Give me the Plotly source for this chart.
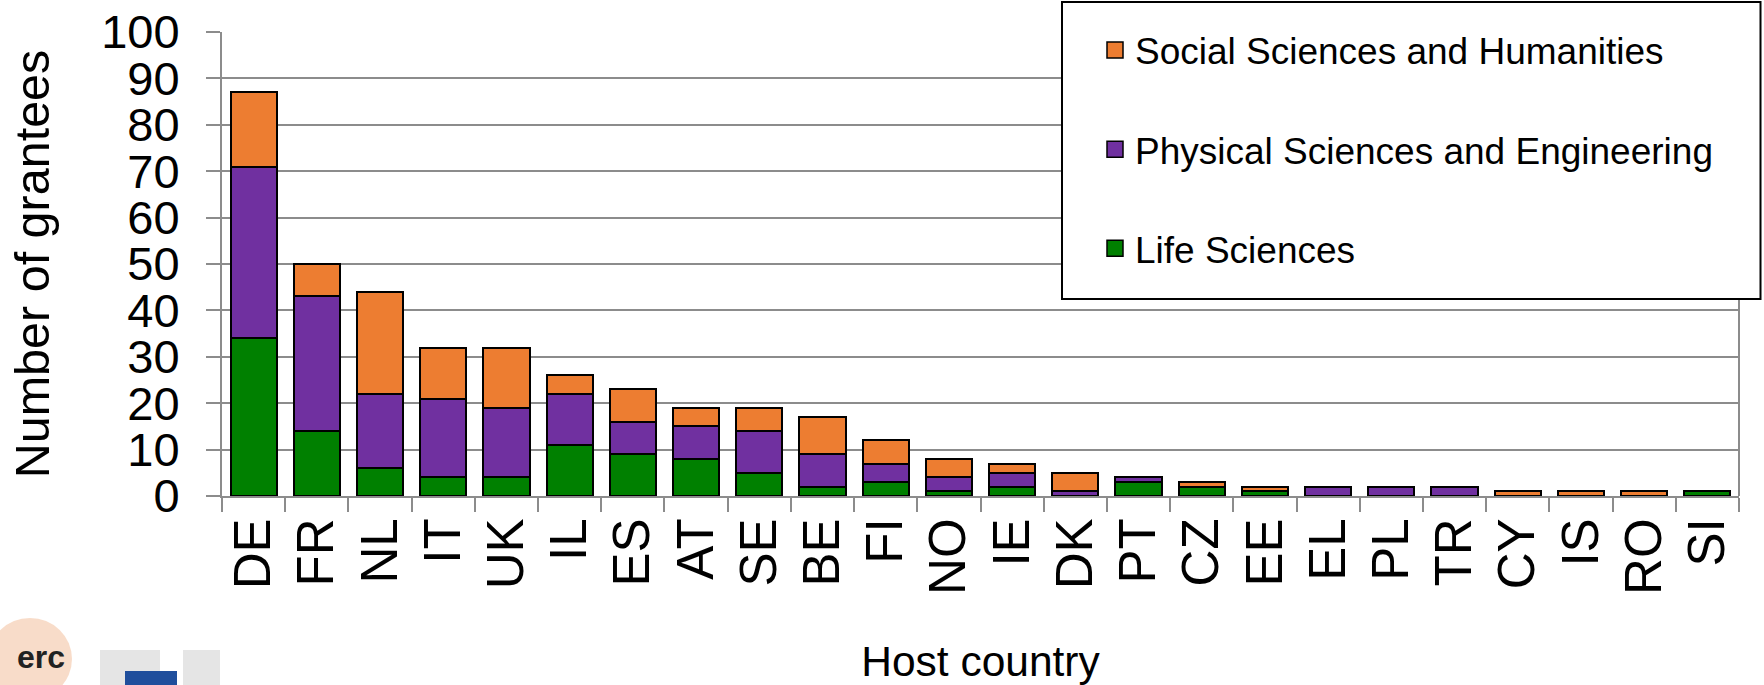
import plotly.graph_objects as go

countries = ["DE", "FR", "NL", "IT", "UK", "IL", "ES", "AT", "SE", "BE", "FI", "NO",
             "IE", "DK", "PT", "CZ", "EE", "EL", "PL", "TR", "CY", "IS", "RO", "SI"]
life_sciences = [34, 14, 6, 4, 4, 11, 9, 8, 5, 2, 3, 1, 2, 0, 3, 2, 1, 0, 0, 0, 0, 0, 0, 1]
physical_sciences = [37, 29, 16, 17, 15, 11, 7, 7, 9, 7, 4, 3, 3, 1, 1, 0, 0, 2, 2, 2, 0, 0, 0, 0]
social_sciences = [16, 7, 22, 11, 13, 4, 7, 4, 5, 8, 5, 4, 2, 4, 0, 1, 1, 0, 0, 0, 1, 1, 1, 0]

# stacking order (bottom -> top)
series = [
    ("Life Sciences", life_sciences, "#008000"),
    ("Physical Sciences and Engineering", physical_sciences, "#7030A0"),
    ("Social Sciences and Humanities", social_sciences, "#ED7D31"),
]

FONT = "Liberation Sans, Arial, sans-serif"
AXIS_GREY = "#8c8c8c"
W, H = 1764, 685
ML, MR, MT, MB = 222, 25, 32, 189
PW = W - ML - MR
PH = H - MT - MB


def px_x(x):
    """screen x (reference pixels) -> paper coordinate"""
    return (x - ML) / PW


def px_y(y):
    """screen y (reference pixels) -> paper coordinate"""
    return (H - MB - y) / PH


fig = go.Figure()
for name, vals, color in series:
    fig.add_trace(go.Bar(
        x=countries,
        y=[v if v else None for v in vals],
        name=name,
        showlegend=False,
        marker=dict(color=color, line=dict(color="black", width=2)),
    ))

# legend entries (top to bottom) with larger square swatches
for rank, (name, vals, color) in enumerate(reversed(series)):
    fig.add_trace(go.Scatter(
        x=[None], y=[None], mode="markers", name=name,
        legendgroup=name, legendrank=rank + 1,
        marker=dict(symbol="square", size=19, color=color,
                    line=dict(color="black", width=1.5)),
    ))

# right border of plot area, visible only below the legend frame
fig.add_shape(type="line", xref="paper", yref="paper", x0=1, x1=1, y0=0, y1=px_y(299),
              line=dict(color=AXIS_GREY, width=2), layer="above")

# legend frame
fig.add_shape(type="rect", xref="paper", yref="paper",
              x0=px_x(1062), x1=px_x(1760.5), y0=px_y(299), y1=px_y(2),
              line=dict(color="black", width=2), fillcolor="white", layer="above")

# logos (approximate)
fig.add_shape(type="circle", xref="paper", yref="paper",
              x0=px_x(-12), x1=px_x(72), y0=px_y(700), y1=px_y(618),
              line=dict(width=0), fillcolor="rgba(230,130,60,0.28)", layer="above")
fig.add_annotation(text="<b>erc</b>", xref="paper", yref="paper",
                   x=px_x(41), y=px_y(657), xanchor="center", yanchor="middle",
                   showarrow=False, font=dict(family=FONT, size=32, color="#222"))
fig.add_shape(type="rect", xref="paper", yref="paper",
              x0=px_x(100), x1=px_x(160), y0=px_y(685), y1=px_y(650),
              line=dict(width=0), fillcolor="rgba(170,170,170,0.3)", layer="above")
fig.add_shape(type="rect", xref="paper", yref="paper",
              x0=px_x(183), x1=px_x(220), y0=px_y(685), y1=px_y(650),
              line=dict(width=0), fillcolor="rgba(170,170,170,0.3)", layer="above")
fig.add_shape(type="rect", xref="paper", yref="paper",
              x0=px_x(125), x1=px_x(177), y0=px_y(686), y1=px_y(671),
              line=dict(width=0), fillcolor="#1F4E9C", layer="above")

fig.update_layout(
    template="none",
    width=W, height=H,
    margin=dict(l=ML, r=MR, t=MT, b=MB, pad=0),
    paper_bgcolor="white", plot_bgcolor="white",
    barmode="stack", bargap=0.27,
    font=dict(family=FONT, color="black"),
    showlegend=True,
    legend=dict(
        x=px_x(1095), y=px_y(19.5), xanchor="left", yanchor="top",
        bgcolor="rgba(0,0,0,0)", borderwidth=0,
        font=dict(family=FONT, size=37, color="black"),
        traceorder="grouped", tracegroupgap=48,
    ),
    xaxis=dict(
        type="category",
        tickangle=-90,
        tickfont=dict(family=FONT, size=51, color="black"),
        ticks="outside", ticklen=14, tickwidth=2, tickcolor=AXIS_GREY,
        tickson="boundaries", ticklabeloverflow="allow",
        showline=True, linecolor=AXIS_GREY, linewidth=2,
        showgrid=False, automargin=False,
        title=dict(text="Host country", font=dict(family=FONT, size=42.5, color="black"),
                   standoff=55),
    ),
    yaxis=dict(
        range=[0, 100], dtick=10, tick0=0,
        tickfont=dict(family=FONT, size=47, color="black"),
        ticks="outside", ticklen=14, tickwidth=2, tickcolor=AXIS_GREY,
        ticklabelstandoff=17, ticklabeloverflow="allow",
        showline=True, linecolor=AXIS_GREY, linewidth=2,
        showgrid=True, gridcolor=AXIS_GREY, gridwidth=2,
        zeroline=False, automargin=False,
        title=dict(text="Number of grantees", font=dict(family=FONT, size=48.5, color="black"),
                   standoff=36),
    ),
)

fig.write_html(
    "out.html",
    config={"displayModeBar": False},
    post_script="document.body.style.margin='0';document.body.style.overflow='hidden';",
)
